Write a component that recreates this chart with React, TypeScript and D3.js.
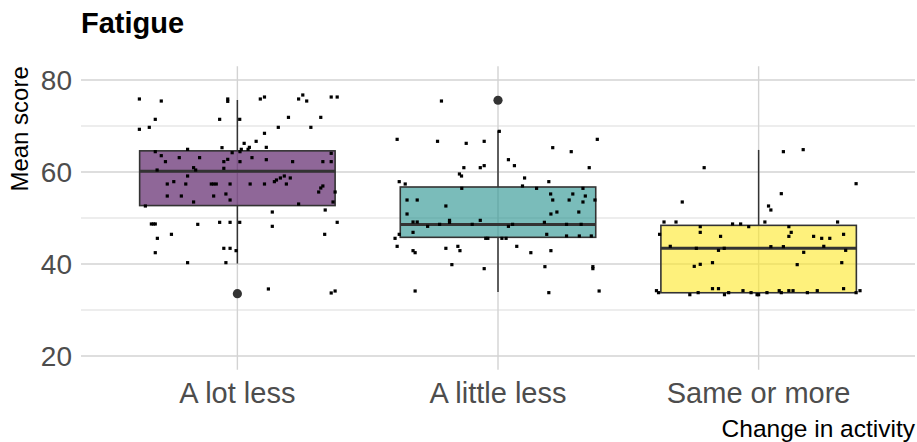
import React from "react";
import * as d3 from "d3";

// Activity groups along the x axis
const categories = ["A lot less", "A little less", "Same or more"];
const fills = ["#440154", "#21908C", "#FDE725"];

// Box-plot summaries per group (mean fatigue score)
const q1 = [52.7, 45.8, 33.75];
const medians = [60.15, 48.6, 43.4];
const q3 = [64.6, 56.74, 48.4];
const whiskerLow = [40.1, 33.9, 33.75];
const whiskerHigh = [75.65, 69.0, 64.8];
const outliers: number[][] = [[33.55], [75.6], []];

// Jittered observations: [horizontal jitter in category units, score]
const pointsLotLess: [number, number][] = [
  [-0.376, 75.87], [-0.292, 75.43], [-0.037, 75.87], [-0.037, 75.36], [0.088, 75.87],
  [0.104, 76.3], [0.235, 75.87], [0.251, 76.74], [0.266, 75.43], [0.36, 76.3],
  [0.383, 76.3], [-0.315, 71.45], [-0.376, 69.28], [-0.338, 69.71], [-0.068, 71.45],
  [0.009, 71.45], [0.196, 71.88], [0.32, 71.88], [0.157, 69.71], [0.282, 69.71],
  [0.104, 68.41], [0.072, 66.67], [0.026, 66.23], [0.046, 65.36], [0.041, 64.93],
  [0.015, 64.93], [0.01, 64.42], [-0.02, 64.2], [-0.059, 65.29], [0.111, 65.36],
  [-0.191, 64.93], [-0.315, 64.42], [-0.292, 63.55], [-0.276, 62.25], [-0.223, 63.12],
  [-0.145, 63.12], [-0.191, 59.13], [-0.168, 60.94], [-0.16, 60.43], [-0.308, 60.43],
  [-0.052, 62.25], [-0.037, 62.75], [-0.052, 60.8], [0.01, 62.25], [0.056, 63.12],
  [0.111, 62.68], [0.212, 62.25], [0.328, 62.25], [0.36, 64.06], [0.36, 62.25],
  [-0.269, 57.39], [-0.244, 57.9], [-0.198, 57.39], [-0.1, 57.39], [-0.091, 57.39],
  [-0.081, 57.39], [-0.028, 57.39], [0.049, 57.39], [0.104, 57.39], [0.142, 57.9],
  [0.15, 58.26], [0.165, 58.7], [0.18, 59.13], [0.203, 58.7], [0.188, 57.39],
  [0.312, 55.65], [0.32, 56.52], [0.328, 56.96], [0.375, 55.65], [0.367, 53.48],
  [0.235, 53.04], [-0.269, 54.78], [-0.215, 54.78], [-0.091, 54.78], [-0.044, 55.22],
  [-0.028, 53.91], [-0.168, 53.48], [-0.353, 52.61], [-0.33, 48.7], [-0.322, 48.7],
  [-0.315, 48.7], [-0.152, 48.62], [-0.068, 49.06], [-0.028, 49.06], [0.009, 49.06],
  [0.134, 51.3], [0.134, 48.19], [0.337, 51.74], [0.383, 49.06], [0.335, 46.45],
  [-0.253, 46.45], [-0.307, 45.58], [-0.315, 42.46], [-0.052, 43.41], [-0.028, 43.41],
  [-0.005, 42.9], [-0.191, 40.29], [-0.044, 40.29], [0.119, 34.57], [0.36, 33.7],
  [0.375, 34.13],
];

const pointsLittleLess: [number, number][] = [
  [-0.217, 75.43], [-0.387, 67.1], [-0.232, 66.67], [-0.122, 66.23], [-0.053, 66.67],
  [0.005, 68.84], [-0.131, 60.94], [-0.148, 59.57], [-0.14, 59.13], [-0.068, 60.94],
  [-0.053, 61.38], [-0.379, 57.9], [-0.356, 57.39], [-0.139, 56.45], [-0.349, 53.91],
  [-0.31, 53.91], [-0.2, 52.61], [-0.349, 50.87], [-0.326, 49.13], [-0.31, 49.13],
  [-0.27, 48.19], [-0.224, 48.62], [-0.186, 49.49], [-0.186, 49.06], [-0.099, 48.62],
  [-0.068, 49.49], [-0.326, 46.88], [-0.379, 46.45], [-0.395, 45.58], [-0.047, 45.58],
  [-0.039, 45.58], [-0.387, 43.84], [-0.326, 42.9], [-0.318, 42.46], [-0.2, 43.41],
  [-0.154, 43.84], [-0.146, 42.9], [-0.177, 39.86], [-0.053, 38.99], [-0.318, 34.13],
  [0.21, 65.29], [0.281, 64.42], [0.381, 67.1], [0.04, 62.68], [0.063, 61.38],
  [0.35, 60.94], [0.102, 58.7], [0.094, 56.96], [0.148, 56.45], [0.195, 57.9],
  [0.326, 56.45], [0.202, 55.22], [0.21, 53.91], [0.287, 55.22], [0.273, 53.91],
  [0.335, 54.78], [0.326, 53.48], [0.372, 53.91], [0.203, 50.87], [0.226, 51.3],
  [0.31, 51.3], [0.04, 48.19], [0.056, 48.62], [0.178, 49.06], [0.263, 48.62],
  [0.319, 48.62], [0.187, 46.45], [0.263, 46.09], [0.312, 46.09], [0.358, 46.09],
  [0.015, 45.58], [0.031, 45.58], [0.072, 43.84], [0.126, 42.46], [0.203, 42.9],
  [0.18, 39.42], [0.364, 39.42], [0.364, 38.99], [0.195, 33.77], [0.388, 34.13],
];

const pointsSameOrMore: [number, number][] = [
  [-0.209, 60.94], [-0.293, 53.48], [-0.363, 49.13], [-0.317, 49.13], [-0.38, 46.45],
  [-0.224, 48.12], [-0.224, 46.88], [-0.1, 48.7], [-0.069, 48.7], [-0.038, 48.12],
  [-0.146, 46.01], [-0.339, 43.84], [-0.239, 43.41], [-0.154, 42.97], [-0.132, 43.41],
  [-0.247, 39.49], [-0.224, 39.93], [-0.177, 40.29], [-0.392, 34.2], [-0.384, 33.77],
  [-0.264, 33.33], [-0.232, 33.77], [-0.177, 34.64], [-0.154, 34.64], [-0.131, 33.33],
  [-0.115, 33.77], [-0.06, 34.2], [-0.029, 33.77], [-0.006, 33.33], [0.095, 64.42],
  [0.171, 64.86], [0.374, 57.46], [0.087, 55.29], [0.038, 52.61], [0.047, 51.74],
  [0.024, 49.13], [0.303, 49.13], [0.116, 48.12], [0.125, 46.88], [0.116, 46.01],
  [0.211, 46.01], [0.242, 45.58], [0.273, 45.58], [0.326, 46.45], [0.047, 43.77],
  [0.095, 43.77], [0.25, 43.84], [0.173, 42.54], [0.334, 42.97], [0.148, 39.86],
  [0.319, 40.29], [0.326, 34.64], [0.0, 33.33], [0.032, 33.77], [0.079, 34.2],
  [0.087, 33.77], [0.116, 34.2], [0.132, 34.2], [0.187, 33.77], [0.225, 34.2],
  [0.374, 33.77], [0.389, 34.2],
];

const groupPoints = [pointsLotLess, pointsLittleLess, pointsSameOrMore];

const yMajorTicks = [20, 40, 60, 80];
const yMinorTicks = [30, 50, 70];

const title = "Fatigue";
const yTitle = "Mean score";
const xTitle = "Change in activity";

const W = 917;
const H = 442;
const panel = { left: 81, right: 915, top: 66.2, bottom: 369.8 };
const FONT = "'Liberation Sans', Arial, sans-serif";

export default function App() {
  const x = d3
    .scaleLinear()
    .domain([0.4, categories.length + 0.6])
    .range([panel.left, panel.right]);
  const y = d3.scaleLinear().domain([17, 83]).range([panel.bottom, panel.top]);
  const boxHalf = x(1.375) - x(1);
  const pt = 3.2;

  return (
    <svg
      width={W}
      height={H}
      viewBox={`0 0 ${W} ${H}`}
      style={{ position: "absolute", left: 0, top: 0, background: "#fff" }}
      fontFamily={FONT}
    >
      {/* grid */}
      <g>
        {yMinorTicks.map((t) => (
          <line key={`mi${t}`} x1={panel.left} x2={panel.right} y1={y(t)} y2={y(t)} stroke="#dcdcdc" strokeWidth={1.1} />
        ))}
        {yMajorTicks.map((t) => (
          <line key={`ma${t}`} x1={panel.left} x2={panel.right} y1={y(t)} y2={y(t)} stroke="#d3d3d3" strokeWidth={1.4} />
        ))}
        {categories.map((c, i) => (
          <line key={`vx${c}`} x1={x(i + 1)} x2={x(i + 1)} y1={panel.top} y2={panel.bottom} stroke="#d3d3d3" strokeWidth={1.4} />
        ))}
      </g>

      {/* boxes */}
      {categories.map((c, i) => {
        const cx = x(i + 1);
        return (
          <g key={`box${c}`}>
            <line x1={cx} x2={cx} y1={y(q3[i])} y2={y(whiskerHigh[i])} stroke="#333" strokeWidth={1.5} />
            <line x1={cx} x2={cx} y1={y(q1[i])} y2={y(whiskerLow[i])} stroke="#333" strokeWidth={1.5} />
            <rect
              x={cx - boxHalf}
              y={y(q3[i])}
              width={boxHalf * 2}
              height={y(q1[i]) - y(q3[i])}
              fill={fills[i]}
              fillOpacity={0.6}
              stroke="#333"
              strokeWidth={1.6}
            />
            <line x1={cx - boxHalf} x2={cx + boxHalf} y1={y(medians[i])} y2={y(medians[i])} stroke="#333" strokeWidth={3} />
            {outliers[i].map((o, k) => (
              <circle key={k} cx={cx} cy={y(o)} r={4.6} fill="#333" />
            ))}
          </g>
        );
      })}

      {/* jittered observations */}
      {groupPoints.map((pts, i) => (
        <g key={`pts${i}`}>
          {pts.map(([j, v], k) => (
            <rect key={k} x={x(i + 1 + j) - pt / 2} y={y(v) - pt / 2} width={pt} height={pt} fill="#000" />
          ))}
        </g>
      ))}

      {/* axes text */}
      {yMajorTicks.map((t) => (
        <text key={`yl${t}`} x={72} y={y(t)} dy="0.36em" textAnchor="end" fontSize={28} fill="#4d4d4d">
          {t}
        </text>
      ))}
      {categories.map((c, i) => (
        <text key={`xl${c}`} x={x(i + 1)} y={403} textAnchor="middle" fontSize={29} fill="#4d4d4d">
          {c}
        </text>
      ))}
      <text x={panel.right} y={437} textAnchor="end" fontSize={24.5} fill="#000">
        {xTitle}
      </text>
      <text transform={`translate(28, ${panel.top}) rotate(-90)`} textAnchor="end" fontSize={24} fill="#000">
        {yTitle}
      </text>
      <text x={81} y={33} fontSize={29} fontWeight="bold" fill="#000">
        {title}
      </text>
    </svg>
  );
}
